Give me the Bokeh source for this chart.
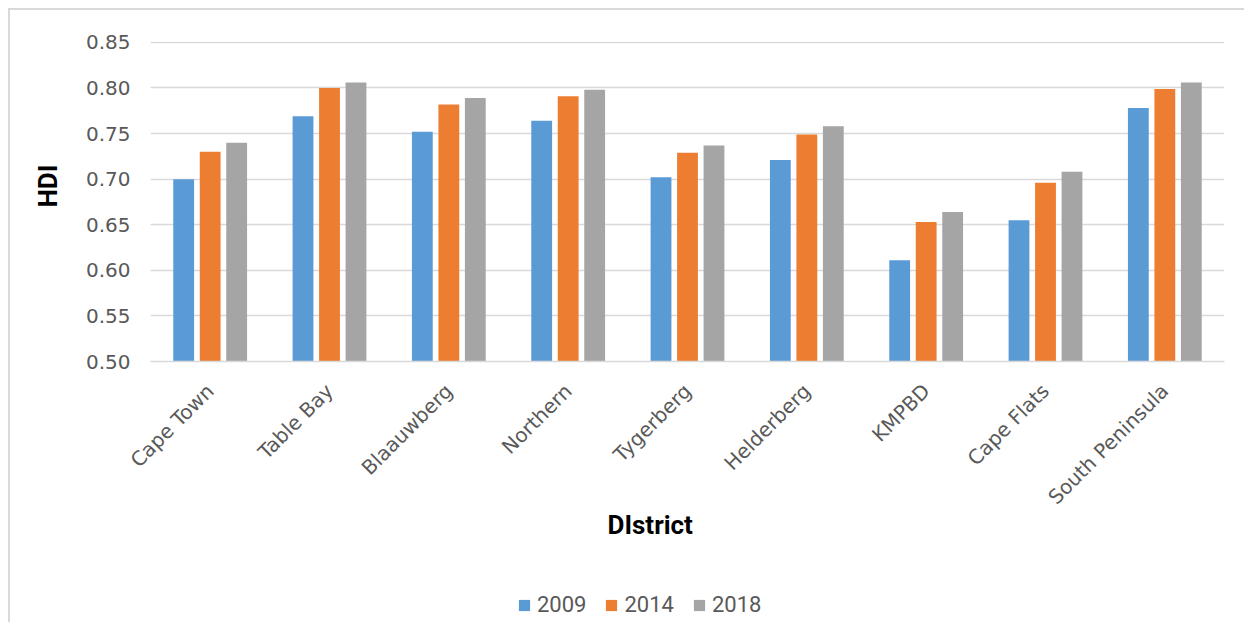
import math
from bokeh.plotting import figure
from bokeh.layouts import column
from bokeh.models import (ColumnDataSource, FactorRange, Range1d, FixedTicker, PrintfTickFormatter,
                          Legend, LegendItem, Title)
from bokeh.transform import dodge
from bokeh.embed import file_html
from bokeh.resources import INLINE

districts = ["Cape Town", "Table Bay", "Blaauwberg", "Northern", "Tygerberg",
             "Helderberg", "KMPBD", "Cape Flats", "South Peninsula"]
hdi_2009 = [0.700, 0.769, 0.752, 0.764, 0.702, 0.721, 0.611, 0.655, 0.778]
hdi_2014 = [0.730, 0.800, 0.782, 0.791, 0.729, 0.749, 0.653, 0.696, 0.799]
hdi_2018 = [0.740, 0.806, 0.789, 0.798, 0.737, 0.758, 0.664, 0.708, 0.806]
years = ["2009", "2014", "2018"]
colors = ["#5B9BD5", "#ED7D31", "#A5A5A5"]
y_ticks = [0.50, 0.55, 0.60, 0.65, 0.70, 0.75, 0.80, 0.85]

src = ColumnDataSource(dict(district=districts, y2009=hdi_2009, y2014=hdi_2014, y2018=hdi_2018))

p = figure(x_range=FactorRange(factors=districts), y_range=Range1d(0.5, 0.851),
           width=1236, height=550, output_backend="svg", toolbar_location=None,
           min_border_left=131, min_border_right=22, min_border_top=31, min_border_bottom=199)
p.styles = {"border-left": "2px solid #d9d9d9", "border-top": "2px solid #d9d9d9"}
p.outline_line_color = None
p.background_fill_color = "white"
p.border_fill_color = "white"

bar_w = 0.1745
offs = [-0.222, 0.0, 0.222]
for col, off, c in zip(["y2009", "y2014", "y2018"], offs, colors):
    p.vbar(x=dodge("district", off, range=p.x_range), top=col, bottom=0.5, width=bar_w,
           source=src, fill_color=c, line_color=None)

p.xgrid.grid_line_color = None
p.ygrid.grid_line_color = "#d9d9d9"
p.ygrid.grid_line_width = 1.5
p.yaxis.ticker = FixedTicker(ticks=y_ticks)
p.yaxis.formatter = PrintfTickFormatter(format="%.2f")
p.yaxis.axis_line_color = None
p.yaxis.major_tick_line_color = None
p.yaxis.minor_tick_line_color = None
p.yaxis.major_label_standoff = 14
p.yaxis.major_label_text_font = "DejaVu Sans"
p.yaxis.major_label_text_font_size = "20px"
p.yaxis.major_label_text_color = "#595959"

p.xaxis.axis_line_color = "#d9d9d9"
p.xaxis.axis_line_width = 1.5
p.xaxis.major_tick_line_color = None
p.xaxis.minor_tick_line_color = None
p.xaxis.major_label_orientation = math.pi / 4
p.xaxis.major_label_standoff = 20
p.xaxis.major_label_text_font = "DejaVu Sans"
p.xaxis.major_label_text_font_size = "20px"
p.xaxis.major_label_text_color = "#595959"

p.add_layout(Title(text="DIstrict", align="left", offset=457, standoff=-25,
                   text_font="Roboto", text_font_style="bold",
                   text_font_size="26px", text_color="black"), "below")
p.add_layout(Title(text="HDI", align="left", offset=154, standoff=40,
                   text_font="Roboto", text_font_style="bold",
                   text_font_size="26px", text_color="black"), "left")

# legend strip
p2 = figure(width=1236, height=64, x_range=(0, 1), y_range=(0, 1), output_backend="svg",
            toolbar_location=None, min_border=0)
p2.styles = {"border-left": "2px solid #d9d9d9"}
p2.axis.visible = False
p2.grid.grid_line_color = None
p2.outline_line_color = None
hidden = ColumnDataSource(dict(x=[-5], top=[-5]))
leg_r = [p2.vbar(x="x", top="top", width=0.1, source=hidden, fill_color=c, line_color=None)
         for c in colors]
legend = Legend(items=[LegendItem(label=y, renderers=[r]) for y, r in zip(years, leg_r)],
                orientation="horizontal", location=(367, 5),
                glyph_width=14, glyph_height=14, label_standoff=6, spacing=18,
                padding=0, margin=0, border_line_color=None, background_fill_alpha=0,
                label_text_font="Roboto", label_text_font_size="22px",
                label_text_color="#595959", label_height=14)
p2.add_layout(legend, "center")

layout = column(p, p2, spacing=0)
layout.margin = (8, 0, 0, 8)
open("out.html", "w").write(file_html(layout, INLINE))
